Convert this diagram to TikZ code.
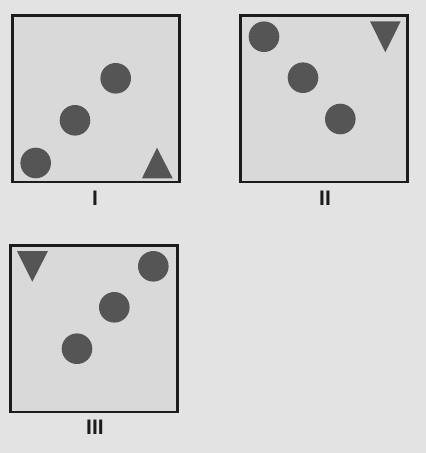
\documentclass[tikz,border=0pt]{standalone}
\usepackage{fontspec}
\setmainfont{Liberation Sans}
\usepackage{tikz}
\usetikzlibrary{positioning}

\definecolor{bgcol}{HTML}{E3E3E3}
\definecolor{boxcol}{HTML}{D9D9D9}
\definecolor{dotcol}{HTML}{555555}
\definecolor{rimcol}{HTML}{1C1C1C}

\tikzset{
  panel/.style={fill=boxcol, draw=rimcol, line width=2.7pt},
  dot/.style={fill=dotcol},
  tri/.style={fill=dotcol},
  tag/.style={font=\fontsize{21}{21}\selectfont\bfseries, text=rimcol, inner sep=0pt}
}

\begin{document}
\begin{tikzpicture}[x=1pt, y=-1pt]
    % The radius of the discs
    \def\rad{15.3}

    % Background
    \fill[bgcol] (0,0) rectangle (426,453);
    \useasboundingbox (0,0) rectangle (426,453);

    % Panel I
    \draw[panel] (12.3,15.7) rectangle (179.3,182);
    \fill[dot] (115.7,78.3) circle (\rad);
    \fill[dot] (75,120.3) circle (\rad);
    \fill[dot] (35.7,163) circle (\rad);
    \fill[tri] (142,178.3) -- (172.7,178.3) -- (157,147.7) -- cycle;
    \node[tag] (labI) at (95,198) {I};

    % Panel II
    \draw[panel] (240.3,15.7) rectangle (407.7,182);
    \fill[dot] (264,36.7) circle (\rad);
    \fill[dot] (303,77.7) circle (\rad);
    \fill[dot] (340.3,119) circle (\rad);
    \fill[tri] (370,21.3) -- (400.7,21.3) -- (385.3,52.3) -- cycle;
    \node[tag] (labII) at (325,198) {II};

    % Panel III
    \draw[panel] (10.3,245.7) rectangle (177.7,412);
    \fill[dot] (153.3,266.3) circle (\rad);
    \fill[dot] (114.3,307.3) circle (\rad);
    \fill[dot] (77,348.7) circle (\rad);
    \fill[tri] (17,251) -- (48,251) -- (32.3,281.7) -- cycle;
    \node[tag] (labIII) at (95,427) {III};
\end{tikzpicture}
\end{document}
